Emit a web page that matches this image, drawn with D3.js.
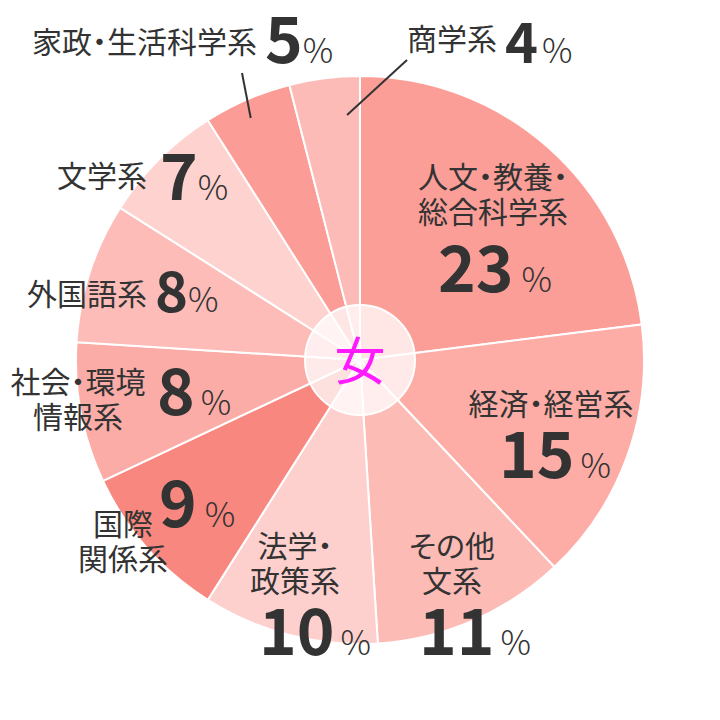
<!DOCTYPE html>
<html>
<head>
<meta charset="utf-8">
<script src="https://cdn.jsdelivr.net/npm/d3@7"></script>
<style>
  html, body { margin: 0; padding: 0; background: #fff; }
  svg { display: block; font-family: "Noto Sans CJK JP", "Noto Sans", sans-serif; }
</style>
</head>
<body>
<div id="chart"></div>
<script>
// faculties, clockwise from 12 o'clock
const categories = [
  ["人文・教養・", "総合科学系"],
  ["経済・経営系"],
  ["その他", "文系"],
  ["法学・", "政策系"],
  ["国際", "関係系"],
  ["社会・環境", "情報系"],
  ["外国語系"],
  ["文学系"],
  ["家政・生活科学系"],
  ["商学系"]
];
const values = [23, 15, 11, 10, 9, 8, 8, 7, 5, 4];
const colors = ["#fc9e98", "#fdaca6", "#fdbbb6", "#fed0cd", "#f7877f",
                "#fcaca6", "#fdbcb8", "#fed2cf", "#fb9c96", "#fdbbb7"];
const centerLabel = "女";

// where each label sits (hand placed like the original)
// anchor: "middle" -> name lines centred on nx, "end" -> name lines end at nx
// x, y: start / baseline of the big number, gap: space before the %
const labelLayout = [
  { anchor: "middle", nx: 493, ny: [188, 223], x: 438, y: 292, gap: 8 },
  { anchor: "middle", nx: 551, ny: [415],      x: 499, y: 478, gap: 6 },
  { anchor: "middle", nx: 452, ny: [557, 592], x: 419, y: 655, gap: 6 },
  { anchor: "middle", nx: 295, ny: [557, 592], x: 259, y: 655, gap: 6 },
  { anchor: "middle", nx: 123, ny: [535, 570], x: 159, y: 527, gap: 8 },
  { anchor: "middle", nx: 78,  ny: [393, 428], x: 157, y: 415, gap: 6 },
  { anchor: "end",    nx: 147, ny: [305],      x: 155, y: 312, gap: 0, small: true },
  { anchor: "end",    nx: 147, ny: [187],      x: 160, y: 200, gap: 0 },
  { anchor: "end",    nx: 257, ny: [53],       x: 265, y: 63,  gap: 0 },
  { anchor: "end",    nx: 497, ny: [50],       x: 505, y: 63,  gap: 4, small: true }
];
// leader lines for the thin slices:
// slice index, position across the slice (0..1), radius fraction, label end point
const leaders = [
  { i: 8, t: 0.45, rf: 0.935, p: [242, 73] },
  { i: 9, t: 0.79, rf: 0.864, p: [407, 60] }
];

const width = 720, height = 720;
const cx = 360, cy = 360, radius = 284, innerR = 55;

const svg = d3.select("#chart").append("svg")
    .attr("width", width)
    .attr("height", height);

const data = values.map((v, i) => ({ name: categories[i], value: v, color: colors[i] }));

const pie = d3.pie().sort(null).value(d => d.value);
const arc = d3.arc().innerRadius(0).outerRadius(radius);
const arcs = pie(data);

const g = svg.append("g").attr("transform", `translate(${cx},${cy})`);

g.selectAll("path")
  .data(arcs)
  .join("path")
    .attr("d", arc)
    .attr("fill", d => d.data.color)
    .attr("stroke", "#fff")
    .attr("stroke-width", 2);

// centre disc
g.append("circle")
    .attr("r", innerR)
    .attr("fill", "#fff")
    .attr("fill-opacity", 0.75)
    .attr("stroke", "#fff")
    .attr("stroke-width", 2);

g.append("text")
    .attr("text-anchor", "middle")
    .attr("y", 20)
    .attr("fill", "#ff1aff")
    .style("font-size", "51px")
    .text(centerLabel);

// leader lines
leaders.forEach(l => {
  const a = arcs[l.i];
  const ang = a.startAngle + (a.endAngle - a.startAngle) * l.t;
  const r = radius * l.rf;
  svg.append("line")
      .attr("x1", l.p[0]).attr("y1", l.p[1])
      .attr("x2", cx + r * Math.sin(ang)).attr("y2", cy - r * Math.cos(ang))
      .attr("stroke", "#333")
      .attr("stroke-width", 2);
});

// labels
const labels = svg.append("g").attr("fill", "#333");
arcs.forEach((a, i) => {
  const L = labelLayout[i];
  a.data.name.forEach((line, j) => {
    labels.append("text")
        .attr("x", L.nx)
        .attr("y", L.ny[j])
        .attr("text-anchor", L.anchor)
        .style("font-size", "30px")
        .style("font-feature-settings", "'palt'")
        .text(line);
  });
  const t = labels.append("text")
      .attr("x", L.x)
      .attr("y", L.y);
  t.append("tspan")
      .style("font-size", L.small ? "56px" : "64px")
      .style("font-weight", "bold")
      .text(a.data.value);
  t.append("tspan")
      .attr("dx", L.gap)
      .style("font-size", "34px")
      .style("font-weight", 300)
      .text("%");
});
</script>
</body>
</html>
